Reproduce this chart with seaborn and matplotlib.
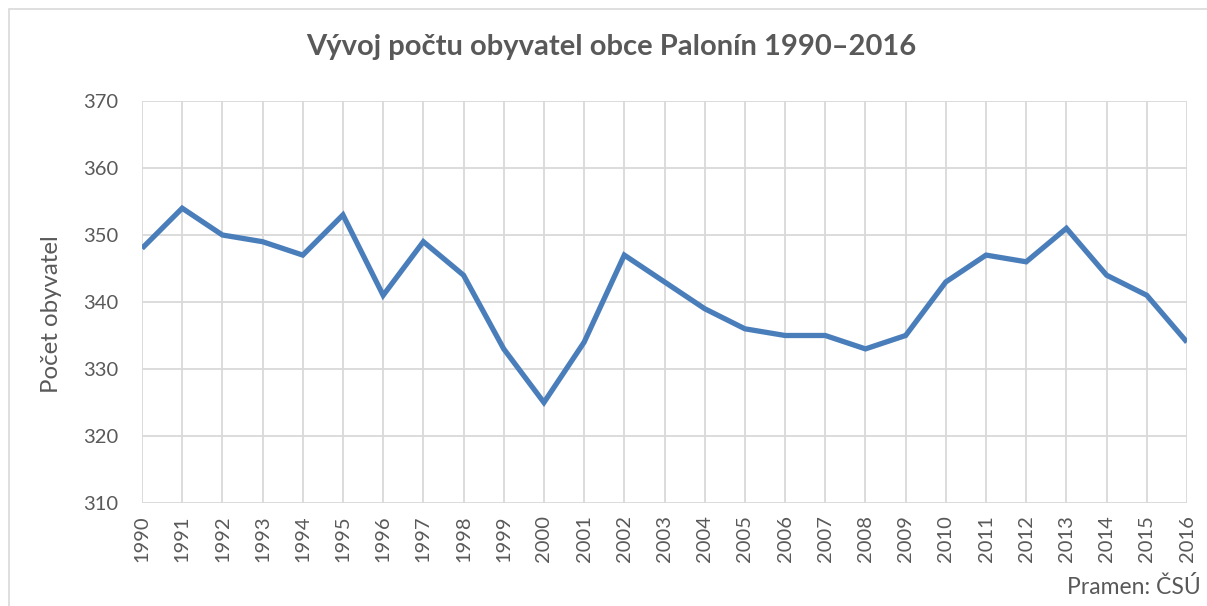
import matplotlib
matplotlib.use("Agg")
import matplotlib.pyplot as plt
import seaborn as sns
import pandas as pd
from matplotlib.patches import Rectangle

years = [str(y) for y in range(1990, 2017)]
population = [348, 354, 350, 349, 347, 353, 341, 349, 344, 333, 325, 334, 347, 343,
              339, 336, 335, 335, 333, 335, 343, 347, 346, 351, 344, 341, 334]
yticks = [310, 320, 330, 340, 350, 360, 370]

title = "Vývoj počtu obyvatel obce Palonín 1990–2016"
ylabel = "Počet obyvatel"
source = "Pramen: ČSÚ"

sns.set_theme(style="white")
plt.rcParams['font.family'] = ['Lato', 'DejaVu Sans']

text_color = "#595959"
grid_color = "#d9d9d9"
line_color = "#4a7ebb"

W, H = 1207, 606
ax_left, ax_right, ax_top, ax_bottom = 142, 1187, 101, 503
fig = plt.figure(figsize=(W / 100, H / 100), dpi=100)
ax = fig.add_axes([ax_left / W, (H - ax_bottom) / H, (ax_right - ax_left) / W, (ax_bottom - ax_top) / H])

df = pd.DataFrame({"year": years, "pop": population})
df["idx"] = range(len(years))
sns.lineplot(data=df, x="idx", y="pop", ax=ax, color=line_color, linewidth=3.8,
             solid_joinstyle="miter", solid_capstyle="butt")

ax.set_xlim(0, len(years) - 1)
ax.set_ylim(yticks[0], yticks[-1])
ax.set_xticks(range(len(years)))
ax.set_xticklabels(years, rotation=90, fontsize=14.5, color=text_color)
ax.set_yticks(yticks)
ax.set_yticklabels([str(v) for v in yticks], fontsize=14.5, color=text_color)
ax.tick_params(axis="x", length=0, pad=9)
ax.tick_params(axis="y", length=0, pad=17)
ax.grid(True, color=grid_color, linewidth=1.3)
ax.set_axisbelow(True)
for s in ax.spines.values():
    s.set_visible(False)
ax.set_xlabel("")
ax.set_ylabel(ylabel, fontsize=17.3, color=text_color, va="center", ha="center")
ax.yaxis.set_label_coords((52 - ax_left) / (ax_right - ax_left),
                          (ax_bottom - 314) / (ax_bottom - ax_top))

fig.text((307 + 916) / 2 / W, 1 - 47 / H, title, ha="center", va="center",
         fontsize=21, fontweight="bold", color=text_color)
fig.text(1201 / W, 1 - 587 / H, source, ha="right", va="center",
         fontsize=16.5, color=text_color)

fig.patches.append(Rectangle((9 / W, -0.1), 1.2, 1.1 - 9 / H,
                             transform=fig.transFigure, fill=False,
                             edgecolor="#d9d9d9", linewidth=1.2))

fig.savefig("out.png", dpi=100, facecolor="white")
